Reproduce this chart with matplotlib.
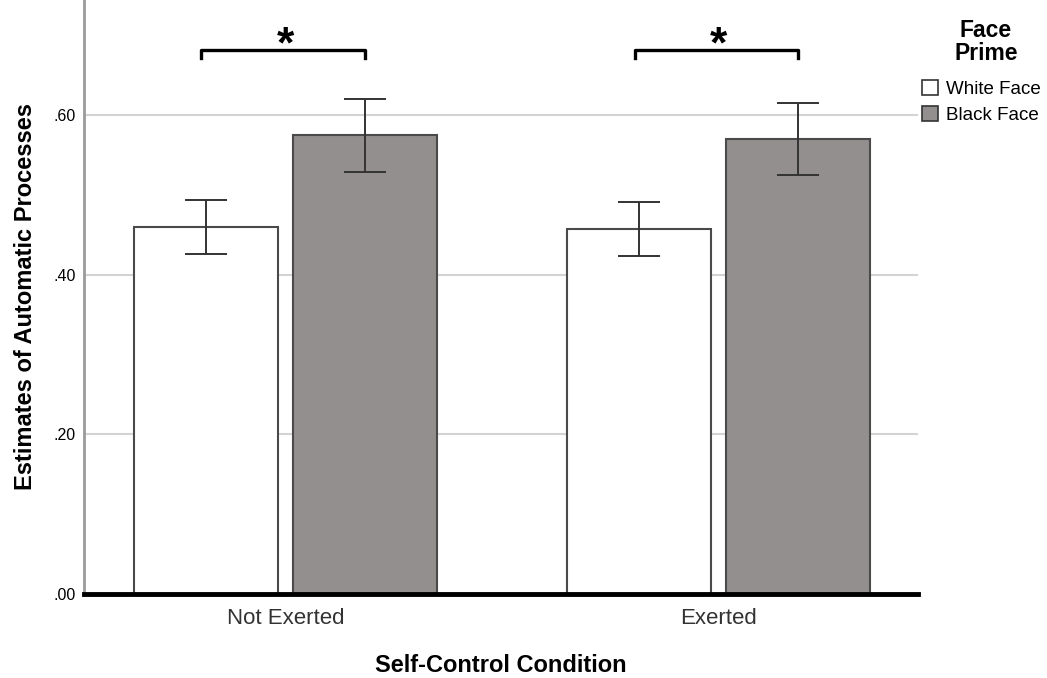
import numpy as np
import matplotlib.pyplot as plt
from matplotlib.patches import Patch

plt.rcParams['font.family'] = ['Liberation Sans', 'DejaVu Sans']

# data
conditions = ['Not Exerted', 'Exerted']
primes = ['White Face', 'Black Face']
white_mean = [0.460, 0.457]
white_lo = [0.426, 0.4235]
white_hi = [0.494, 0.491]
black_mean = [0.575, 0.570]
black_lo = [0.529, 0.525]
black_hi = [0.620, 0.615]
yticks = [0.0, 0.2, 0.4, 0.6]
ytick_labels = ['.00', '.20', '.40', '.60']

fig = plt.figure(figsize=(10.47, 6.78), dpi=100)
ax = fig.add_axes([0.0802, 0.1239, 0.7966, 0.8761])

x = np.arange(len(conditions))
w = 0.333
off = 0.1836

for yy in yticks[1:]:
    ax.axhline(yy, color='#d3d3d3', lw=1.5, zorder=0)

err_w = [np.array(white_mean) - np.array(white_lo), np.array(white_hi) - np.array(white_mean)]
err_b = [np.array(black_mean) - np.array(black_lo), np.array(black_hi) - np.array(black_mean)]

ax.bar(x - off, white_mean, w, color='white', edgecolor='#4a4a4a', lw=1.5, zorder=2)
ax.bar(x + off, black_mean, w, color='#938f8e', edgecolor='#4a4a4a', lw=1.5, zorder=2)
ax.errorbar(x - off, white_mean, yerr=err_w, fmt='none', ecolor='#333333',
            elinewidth=1.4, capsize=14.8, capthick=1.4, zorder=3)
ax.errorbar(x + off, black_mean, yerr=err_b, fmt='none', ecolor='#333333',
            elinewidth=1.4, capsize=14.8, capthick=1.4, zorder=3)

# significance brackets
for i in x:
    x0, x1 = i - off - 0.01, i + off
    ax.plot([x0, x0, x1, x1], [0.671, 0.681, 0.681, 0.671], color='black',
            lw=2.4, solid_joinstyle='round', clip_on=False, zorder=4)
    ax.text(i, 0.661, '*', ha='center', va='bottom', fontsize=32,
            fontweight='bold', zorder=4)

ax.set_xlim(-0.465, 1.461)
ax.set_ylim(0, 0.744)
ax.set_yticks(yticks)
ax.set_yticklabels(ytick_labels, fontsize=11.5)
ax.set_xticks(x)
ax.set_xticklabels(conditions, fontsize=16, color='#333333')
ax.tick_params(axis='both', length=0)
ax.tick_params(axis='y', pad=6)
ax.tick_params(axis='x', pad=10)

for s in ['top', 'right']:
    ax.spines[s].set_visible(False)
ax.spines['left'].set_color('#9a9a9a')
ax.spines['left'].set_linewidth(2)
ax.spines['bottom'].set_color('black')
ax.spines['bottom'].set_linewidth(3.5)
ax.spines['bottom'].set_zorder(5)

ax.set_xlabel('Self-Control Condition', fontsize=17, fontweight='bold', labelpad=18)
ax.set_ylabel('Estimates of Automatic Processes', fontsize=17, fontweight='bold', labelpad=12)

# legend title drawn separately, entries below it
fig.text(0.9415, 1 - 42 / 678, 'Face\nPrime', ha='center', va='center',
         fontsize=16.5, fontweight='bold', linespacing=0.95)
handles = [Patch(facecolor='white', edgecolor='#333333', lw=1.2),
           Patch(facecolor='#938f8e', edgecolor='#333333', lw=1.2)]
leg = fig.legend(handles, primes, loc='upper left', bbox_to_anchor=(0.881, 0.882),
                 frameon=False, fontsize=13.5,
                 handlelength=0.85, handleheight=0.85, handletextpad=0.4,
                 labelspacing=0.45, borderaxespad=0, borderpad=0)

fig.savefig('out.png', dpi=100)
